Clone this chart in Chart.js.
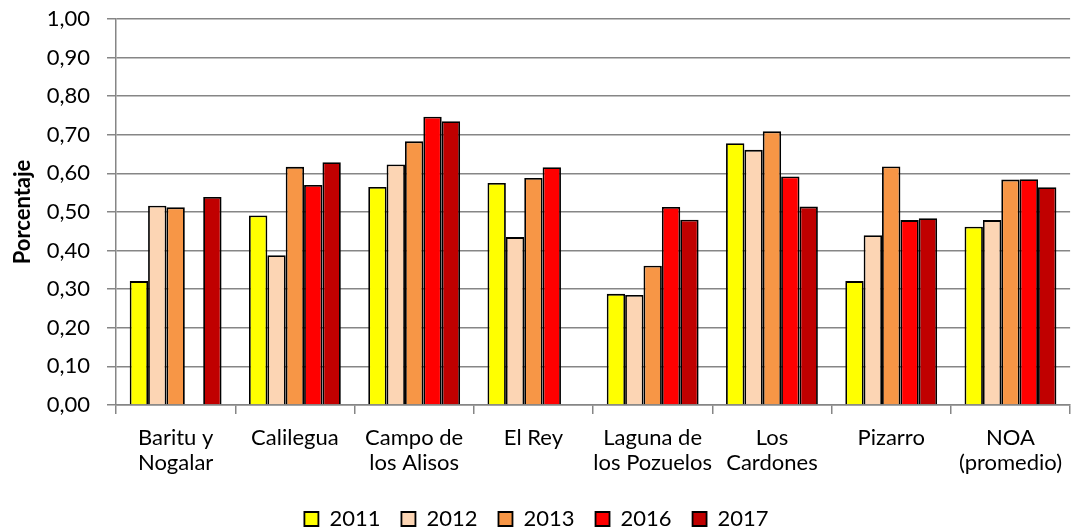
<!DOCTYPE html>
<html>
<head>
<meta charset="utf-8">
<script src="https://cdn.jsdelivr.net/npm/chart.js@4.4.1/dist/chart.umd.min.js"></script>
<style>
  html, body { margin: 0; padding: 0; background: #fff; }
  #wrap { width: 1073px; height: 531px; position: relative; }
</style>
</head>
<body>
<div id="wrap"><canvas id="grafico"></canvas></div>
<script>
// areas y porcentajes por año
const areas = [
  ['Baritu y', 'Nogalar'],
  ['Calilegua'],
  ['Campo de', 'los Alisos'],
  ['El Rey'],
  ['Laguna de', 'los Pozuelos'],
  ['Los', 'Cardones'],
  ['Pizarro'],
  ['NOA', '(promedio)']
];
const anios = ['2011', '2012', '2013', '2016', '2017'];
const colores = ['#FFFF00', '#FCD5B4', '#F79646', '#FF0000', '#C00000'];

const v2011 = [0.321, 0.491, 0.565, 0.575, 0.288, 0.678, 0.321, 0.462];
const v2012 = [0.516, 0.388, 0.623, 0.435, 0.285, 0.661, 0.440, 0.479];
const v2013 = [0.512, 0.617, 0.683, 0.588, 0.361, 0.709, 0.618, 0.584];
const v2016 = [null, 0.570, 0.747, 0.616, 0.513, 0.592, 0.479, 0.585];
const v2017 = [0.539, 0.629, 0.735, null, 0.480, 0.514, 0.484, 0.564];

const yTicks = [0, 0.1, 0.2, 0.3, 0.4, 0.5, 0.6, 0.7, 0.8, 0.9, 1.0];

const series = [v2011, v2012, v2013, v2016, v2017];

Chart.defaults.font.family = 'Lato';
Chart.defaults.font.size = 22;
Chart.defaults.color = '#000';

const datasets = [];
for (let i = 0; i < series.length; i++) {
  datasets.push({
    label: anios[i],
    data: series[i],
    backgroundColor: colores[i],
    borderColor: '#000',
    borderWidth: 1.8,
    borderSkipped: 'bottom',
    categoryPercentage: 0.77,
    barPercentage: 1.0
  });
}

const gris = '#868686';

new Chart(document.getElementById('grafico'), {
  type: 'bar',
  data: { labels: areas, datasets: datasets },
  options: {
    responsive: true,
    maintainAspectRatio: false,
    animation: false,
    layout: { padding: { top: 19, left: 0, right: 0, bottom: -9 } },
    plugins: {
      tooltip: { enabled: false },
      legend: {
        position: 'bottom',
        labels: {
          boxWidth: 14,
          boxHeight: 14,
          padding: 21,
          font: { size: 22 }
        }
      }
    },
    scales: {
      x: {
        grid: {
          offset: true,
          drawOnChartArea: false,
          color: gris,
          lineWidth: 1.5,
          tickLength: 9
        },
        border: { color: gris, width: 1.5 },
        ticks: { padding: 11, font: { size: 22, lineHeight: 1.15 }, maxRotation: 0, autoSkip: false },
        afterFit: function (scale) { scale.height = 82; }
      },
      y: {
        min: 0,
        max: 1,
        afterBuildTicks: function (scale) {
          scale.ticks = yTicks.map(v => ({ value: v }));
        },
        ticks: {
          padding: 17,
          font: { size: 22 },
          callback: function (v) { return v.toFixed(2).replace('.', ','); }
        },
        grid: { color: gris, lineWidth: 1.5, tickLength: 9 },
        border: { color: gris, width: 1.5 },
        title: {
          display: true,
          text: 'Porcentaje',
          font: { size: 22, weight: 'bold' },
          padding: { top: 10, bottom: 4 }
        },
        afterFit: function (scale) {
          // ancho fijo del eje y sin relleno extra arriba
          scale.width = 116;
          scale.paddingTop = 0;
          scale.paddingBottom = 0;
        }
      }
    }
  }
});
</script>
</body>
</html>
